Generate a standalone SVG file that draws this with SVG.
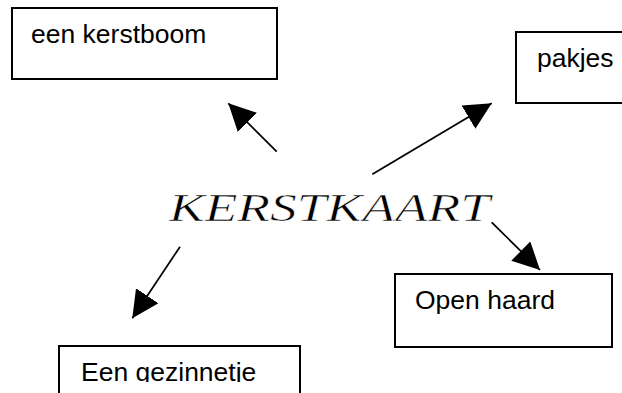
<svg xmlns="http://www.w3.org/2000/svg" width="622" height="393" viewBox="0 0 622 393">
  <style>
    .box { fill: #ffffff; stroke: #000000; stroke-width: 2; }
    .lbl { font-family: "Liberation Sans", Arial, sans-serif; font-size: 26.5px; fill: #000000; }
    .title { font-family: "Liberation Serif", "Times New Roman", serif; font-style: italic; font-size: 41px; fill: #000000; stroke: #ffffff; stroke-width: 0.6px; }
    .conn { stroke: #000000; stroke-width: 1.75; fill: none; marker-end: url(#arrow); }
  </style>
  <defs>
    <marker id="arrow" markerUnits="userSpaceOnUse" markerWidth="28" markerHeight="28" refX="27" refY="13.5" orient="auto">
      <path d="M0,0 L27,13.5 L0,27 Z" fill="#000000"/>
    </marker>
    <clipPath id="clipBottom">
      <rect x="0" y="0" width="622" height="382"/>
    </clipPath>
  </defs>
  <rect x="0" y="0" width="622" height="393" fill="#ffffff"/>

  <g id="node-kerstboom">
    <rect class="box" x="12" y="8" width="265" height="71"/>
    <text class="lbl" x="31" y="43">een kerstboom</text>
  </g>

  <g id="node-pakjes">
    <rect class="box" x="516" y="32" width="130" height="71"/>
    <text class="lbl" x="537" y="67">pakjes</text>
  </g>

  <g id="node-kerstkaart">
    <text class="title" x="169" y="221" textLength="321" lengthAdjust="spacingAndGlyphs">KERSTKAART</text>
  </g>

  <g id="node-openhaard">
    <rect class="box" x="395" y="274" width="217" height="73"/>
    <text class="lbl" x="415" y="309">Open haard</text>
  </g>

  <g id="node-gezinnetje">
    <rect class="box" x="59" y="346" width="241" height="60"/>
    <text class="lbl" x="81" y="381" clip-path="url(#clipBottom)">Een gezinnetje</text>
  </g>

  <g id="connectors">
    <line class="conn" x1="276.7" y1="151.7" x2="228.3" y2="103.3"/>
    <line class="conn" x1="372.3" y1="174.3" x2="491.7" y2="103.3"/>
    <line class="conn" x1="180" y1="246.7" x2="132.3" y2="318.3"/>
    <line class="conn" x1="491.7" y1="222.3" x2="540" y2="270"/>
  </g>
</svg>
